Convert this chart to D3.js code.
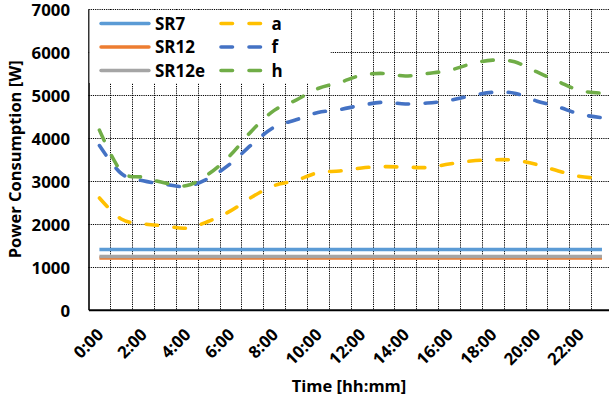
<!DOCTYPE html>
<html>
<head>
<meta charset="utf-8">
<script src="https://cdn.jsdelivr.net/npm/d3@7"></script>
<style>
  body { margin: 0; background: #fff; }
  text { font-family: "Open Sans", Lato, sans-serif; font-weight: bold; fill: #000; }
</style>
</head>
<body>
<div id="svg-container"></div>
<script>
// Chart size and margins
const width = 609;
const height = 401;
const margins = { top: 9, left: 88.5, bottom: 91.3 };
const plotRight = 612.9; // plot area runs slightly past the picture edge

// Data
const hours = d3.range(24).map(h => h + ":00");
const yTicks = [0, 1000, 2000, 3000, 4000, 5000, 6000, 7000];

const sr7 = Array(24).fill(1400);
const sr12 = Array(24).fill(1205);
const sr12e = Array(24).fill(1240);
const seriesA = [2600, 2110, 2000, 1950, 1900, 2060, 2300, 2630, 2890, 3010, 3190, 3230,
                 3300, 3330, 3320, 3310, 3390, 3460, 3490, 3480, 3380, 3230, 3100, 3060];
const seriesF = [3820, 3170, 3000, 2920, 2870, 3060, 3400, 3860, 4250, 4420, 4590, 4660,
                 4760, 4830, 4790, 4810, 4870, 4980, 5060, 5040, 4860, 4720, 4550, 4470];
const seriesH = [4180, 3220, 3080, 2950, 2890, 3160, 3600, 4180, 4640, 4880, 5150, 5290,
                 5460, 5500, 5440, 5500, 5570, 5720, 5810, 5770, 5540, 5310, 5100, 5040];

const series = [
  { name: "SR7", values: sr7, color: "#5B9BD5", dashed: false },
  { name: "SR12", values: sr12, color: "#ED7D31", dashed: false },
  { name: "SR12e", values: sr12e, color: "#A5A5A5", dashed: false },
  { name: "a", values: seriesA, color: "#FFC000", dashed: true },
  { name: "f", values: seriesF, color: "#4472C4", dashed: true },
  { name: "h", values: seriesH, color: "#70AD47", dashed: true }
];

const innerBottom = height - margins.bottom;
const dash = "11.5,16.5";

// Scales
const xScale = d3.scaleBand()
  .domain(hours)
  .range([margins.left, plotRight])
  .padding(0);

const yScale = d3.scaleLinear()
  .domain([0, 7000])
  .range([innerBottom, margins.top]);

const xCenter = d => xScale(d) + xScale.bandwidth() / 2;

const svg = d3.select("#svg-container")
  .append("svg")
    .attr("width", width)
    .attr("height", height);

// Horizontal gridlines
svg.append("g")
  .selectAll("line")
  .data(yTicks.slice(1))
  .enter()
  .append("line")
    .attr("x1", margins.left)
    .attr("x2", plotRight)
    .attr("y1", d => Math.round(yScale(d)) + 0.5)
    .attr("y2", d => Math.round(yScale(d)) + 0.5)
    .attr("stroke", "#000")
    .attr("stroke-width", 1)
    .attr("stroke-dasharray", "1.2,1");

// Vertical gridlines, between categories
svg.append("g")
  .selectAll("line")
  .data(hours.slice(1))
  .enter()
  .append("line")
    .attr("x1", d => Math.round(xScale(d)) + 0.5)
    .attr("x2", d => Math.round(xScale(d)) + 0.5)
    .attr("y1", margins.top)
    .attr("y2", innerBottom)
    .attr("stroke", "#000")
    .attr("stroke-width", 1)
    .attr("stroke-dasharray", "1.2,1");

// Lines
const line = d3.line()
  .x((d, i) => xCenter(hours[i]))
  .y(d => yScale(d))
  .curve(d3.curveCardinal.tension(0));

svg.append("g")
  .selectAll("path")
  .data(series)
  .enter()
  .append("path")
    .attr("d", d => line(d.values))
    .attr("fill", "none")
    .attr("stroke", d => d.color)
    .attr("stroke-width", d => d.dashed ? 3.6 : 3.4)
    .attr("stroke-linecap", d => d.dashed ? "round" : "butt")
    .attr("stroke-dasharray", d => d.dashed ? dash : null);

// Y axis
const yAxis = svg.append("g")
  .attr("transform", `translate(${margins.left}, 0)`)
  .call(d3.axisLeft(yScale).tickValues(yTicks).tickFormat(d3.format("d")).tickSize(0).tickPadding(18.5));
yAxis.select(".domain").attr("stroke", "#000").attr("stroke-width", 1.6);
yAxis.selectAll("text")
  .attr("y", 1)
  .style("font-family", "'Open Sans', sans-serif")
  .style("font-size", "16.8px")
  .style("font-weight", "bold");

// X axis
const xAxis = svg.append("g")
  .attr("transform", `translate(0, ${innerBottom})`)
  .call(d3.axisBottom(xScale).tickValues(hours.filter((d, i) => i % 2 === 0)).tickSize(0));
xAxis.select(".domain").attr("stroke", "#000").attr("stroke-width", 2);
xAxis.selectAll("text")
  .attr("text-anchor", "end")
  .attr("y", 0)
  .attr("dy", 0)
  .attr("transform", "translate(5, 26) rotate(-45)")
  .style("font-family", "'Open Sans', sans-serif")
  .style("font-size", "16.8px")
  .style("font-weight", "bold");

// Axis titles
svg.append("text")
  .attr("x", 349)
  .attr("y", 391.5)
  .attr("text-anchor", "middle")
  .style("font-size", "16.5px")
  .text("Time [hh:mm]");

svg.append("text")
  .attr("transform", `translate(20.5, ${(margins.top + innerBottom) / 2}) rotate(-90)`)
  .attr("text-anchor", "middle")
  .style("font-size", "16.5px")
  .text("Power Consumption [W]");

// Legend
const legend = svg.append("g");
legend.append("rect")
  .attr("x", margins.left + 1)
  .attr("y", margins.top + 1)
  .attr("width", 241)
  .attr("height", 73)
  .attr("fill", "#fff");

const legendItems = legend.selectAll("g.item")
  .data(series)
  .enter()
  .append("g")
    .attr("class", "item")
    .attr("transform", (d, i) => `translate(${i < 3 ? 101 : 219}, ${23.5 + (i % 3) * 23.5})`);

legendItems.append("line")
  .attr("x1", d => d.dashed ? 2 : 0)
  .attr("x2", d => d.dashed ? 42 : 48)
  .attr("stroke", d => d.color)
  .attr("stroke-width", d => d.dashed ? 3.6 : 3.4)
  .attr("stroke-linecap", "round")
  .attr("stroke-dasharray", d => d.dashed ? dash : null);

legendItems.append("text")
  .attr("x", d => d.dashed ? 52.5 : 54)
  .attr("y", 6)
  .style("font-size", "17px")
  .text(d => d.name);
</script>
</body>
</html>
